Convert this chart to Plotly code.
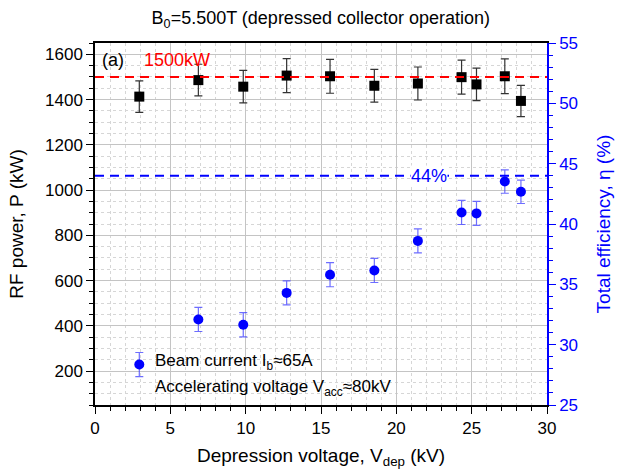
import plotly.graph_objects as go

# Data
v_dep = [2.94, 6.86, 9.84, 12.72, 15.6, 18.54, 21.43, 24.33, 25.32, 27.2, 28.27]
rf_power = [1413, 1486, 1457, 1506, 1503, 1461, 1471, 1499, 1467, 1503, 1394]
rf_power_err = [70, 70, 72, 75, 75, 72, 73, 75, 72, 77, 69]
efficiency = [28.35, 32.09, 31.65, 34.29, 35.8, 36.15, 38.6, 40.96, 40.88, 43.52, 42.67]
efficiency_err = [1.0, 1.0, 1.0, 1.0, 1.0, 1.0, 1.0, 1.0, 1.0, 0.97, 0.97]

power_target = 1500
eff_target = 44

FONT = "Liberation Sans, Arial, sans-serif"
BLUE = "#0000ff"

fig = go.Figure()

fig.add_trace(go.Scatter(
    x=v_dep, y=rf_power, mode="markers",
    marker=dict(symbol="square", size=10, color="black"),
    error_y=dict(type="data", array=rf_power_err, color="#333333", thickness=1.2, width=4),
    yaxis="y", showlegend=False,
))

fig.add_trace(go.Scatter(
    x=v_dep, y=efficiency, mode="markers",
    marker=dict(symbol="circle", size=10, color=BLUE),
    error_y=dict(type="data", array=efficiency_err, color="rgba(60,60,255,0.75)", thickness=1.2, width=4),
    yaxis="y2", showlegend=False,
))

# Reference dashed lines
fig.add_shape(type="line", xref="paper", x0=0, x1=1, yref="y", y0=power_target, y1=power_target,
              line=dict(color="red", width=2, dash="9px,6px"))
fig.add_shape(type="line", xref="paper", x0=0, x1=1, yref="y2", y0=eff_target, y1=eff_target,
              line=dict(color=BLUE, width=2, dash="9px,6px"))

ann = []
ann.append(dict(x=22.2, y=eff_target, xref="x", yref="y2", text="44%", showarrow=False,
                font=dict(family=FONT, size=18, color=BLUE), bgcolor="white", borderpad=0))
ann.append(dict(x=5.42, y=1576, xref="x", yref="y", text="1500kW", showarrow=False,
                font=dict(family=FONT, size=18, color="red")))
ann.append(dict(x=1.2, y=1576, xref="x", yref="y", text="(a)", showarrow=False,
                font=dict(family=FONT, size=18, color="black")))
ann.append(dict(x=3.85, y=28.55, xref="x", yref="y2", xanchor="left", text="Beam current I<sub>b</sub>≈65A",
                showarrow=False, font=dict(family=FONT, size=17, color="black")))
ann.append(dict(x=3.85, y=26.45, xref="x", yref="y2", xanchor="left",
                text="Accelerating voltage V<sub>acc</sub>≈80kV",
                showarrow=False, font=dict(family=FONT, size=17, color="black")))

fig.update_layout(
    width=629, height=475,
    margin=dict(l=95, r=82, t=43, b=67),
    paper_bgcolor="white", plot_bgcolor="white",
    font=dict(family=FONT, size=17, color="black"),
    title=dict(text="B<sub>0</sub>=5.500T (depressed collector operation)", x=0.51, xanchor="center",
               y=0.963, yanchor="middle", font=dict(family=FONT, size=18, color="black")),
    annotations=ann,
    xaxis=dict(
        range=[0, 30], tick0=0, dtick=5, ticks="outside", ticklen=7, tickcolor="black",
        showline=True, linecolor="black", linewidth=1.5, mirror=True,
        showgrid=True, gridcolor="#c4c4c4", gridwidth=1, zeroline=False,
        minor=dict(dtick=1, ticks="outside", ticklen=4, tickcolor="black",
                   showgrid=True, gridcolor="#d6d6d6", griddash="dot", gridwidth=1),
        title=dict(text="Depression voltage, V<sub>dep</sub> (kV)", standoff=12, font=dict(size=19)),
        tickfont=dict(size=17),
    ),
    yaxis=dict(
        range=[50, 1650], tick0=0, dtick=200, ticks="outside", ticklen=7, tickcolor="black",
        showline=True, linecolor="black", linewidth=1.5,
        showgrid=True, gridcolor="#c4c4c4", gridwidth=1, zeroline=False,
        minor=dict(dtick=50, ticks="outside", ticklen=4, tickcolor="black",
                   showgrid=True, gridcolor="#d6d6d6", griddash="dot", gridwidth=1),
        title=dict(text="RF power, P (kW)", standoff=16, font=dict(size=19)),
        tickfont=dict(size=17),
    ),
    yaxis2=dict(
        overlaying="y", side="right", anchor="x",
        range=[25, 55], tick0=25, dtick=5, ticks="outside", ticklen=7, tickcolor=BLUE,
        showline=True, linecolor=BLUE, linewidth=1.5,
        showgrid=False, zeroline=False,
        minor=dict(dtick=1, ticks="outside", ticklen=4, tickcolor=BLUE, showgrid=False),
        title=dict(text="Total efficiency, η (%)", standoff=20, font=dict(size=19, color=BLUE)),
        tickfont=dict(size=17, color=BLUE),
    ),
)

fig.write_html("out.html")
